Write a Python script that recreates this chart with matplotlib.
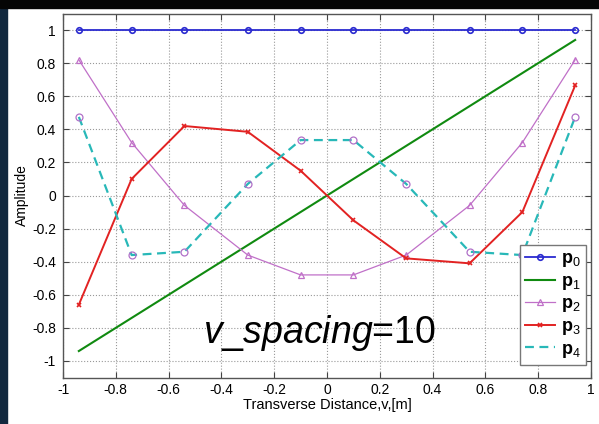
import numpy as np
import matplotlib
matplotlib.use("Agg")
import matplotlib.pyplot as plt
from matplotlib.patches import Rectangle

# ─────────────────────────────────────────────
# Data
# ─────────────────────────────────────────────
v = [-0.94, -0.74, -0.54, -0.30, -0.10, 0.10, 0.30, 0.54, 0.74, 0.94]
p0 = [1, 1, 1, 1, 1, 1, 1, 1, 1, 1]
p1 = [-0.94, -0.74, -0.54, -0.30, -0.10, 0.10, 0.30, 0.54, 0.74, 0.94]
p2 = [0.82, 0.32, -0.06, -0.36, -0.48, -0.48, -0.36, -0.06, 0.32, 0.82]
p3 = [-0.66, 0.10, 0.42, 0.385, 0.15, -0.15, -0.38, -0.41, -0.10, 0.665]
p4 = [0.475, -0.36, -0.34, 0.07, 0.335, 0.335, 0.07, -0.34, -0.36, 0.475]

x_ticks = [-1, -0.8, -0.6, -0.4, -0.2, 0, 0.2, 0.4, 0.6, 0.8, 1]
y_ticks = [-1, -0.8, -0.6, -0.4, -0.2, 0, 0.2, 0.4, 0.6, 0.8, 1]
x_ticklabels = ["-1", "-0.8", "-0.6", "-0.4", "-0.2", "0", "0.2", "0.4", "0.6", "0.8", "1"]
y_ticklabels = ["-1", "-0.8", "-0.6", "-0.4", "-0.2", "0", "0.2", "0.4", "0.6", "0.8", "1"]

plt.rcParams["font.family"] = ["Liberation Sans", "DejaVu Sans"]
plt.rcParams["mathtext.fontset"] = "custom"
plt.rcParams["mathtext.rm"] = "Liberation Sans"
plt.rcParams["mathtext.it"] = "Liberation Sans:italic"
plt.rcParams["mathtext.bf"] = "Liberation Sans:bold"

fig = plt.figure(figsize=(5.99, 4.24), dpi=100, facecolor="white")

# slide background strips (dark top band, textured-blue left edge)
fig.patches.append(Rectangle((0, 0), 7 / 599, 1, transform=fig.transFigure,
                             color="#12283f", zorder=0))
fig.patches.append(Rectangle((0, 1 - 8 / 424), 1, 8 / 424, transform=fig.transFigure,
                             color="#050505", zorder=0))

ax = fig.add_axes([63 / 599, 1 - 377.5 / 424, 528 / 599, 364 / 424])

ax.plot(v, p0, "-o", color="#2a2ad0", lw=1.3, ms=4, mfc="none", mew=1.2,
        label=r"$\mathbf{p}_0$")
ax.plot(v, p1, "-", color="#108a10", lw=1.5, label=r"$\mathbf{p}_1$")
ax.plot(v, p2, "-^", color="#c070c8", lw=0.9, ms=5, mfc="none", mew=0.9,
        label=r"$\mathbf{p}_2$")
ax.plot(v, p3, "-x", color="#e22222", lw=1.4, ms=3, mew=1.2,
        label=r"$\mathbf{p}_3$")
ax.plot(v, p4, "--", color="#28b8b8", lw=1.6, dashes=(4, 2.5),
        label=r"$\mathbf{p}_4$")
ax.plot(v, p4, "o", color="#b070c8", ms=5, mfc="none", mew=0.9, zorder=3)

ax.set_xlim(-1, 1)
ax.set_ylim(-1.1, 1.1)
ax.set_xticks(x_ticks)
ax.set_xticklabels(x_ticklabels)
ax.set_yticks(y_ticks)
ax.set_yticklabels(y_ticklabels)
ax.tick_params(direction="in", top=True, right=True, labelsize=10,
               length=4, color="#444444")
ax.tick_params(axis="x", pad=4)
ax.tick_params(axis="y", pad=5)
ax.grid(True, linestyle=":", color="#999999", linewidth=0.8)
for s in ax.spines.values():
    s.set_color("#555555")
    s.set_linewidth(1.0)

ax.set_xlabel("Transverse Distance,v,[m]", fontsize=10.5, labelpad=1)
ax.set_ylabel("Amplitude", fontsize=10, labelpad=2)

ax.text(-0.03, -0.83, r"$\mathit{v\_spacing}$=10", fontsize=27,
        ha="center", va="center")

leg = ax.legend(loc="lower right", bbox_to_anchor=(0.99, 0.034),
                borderaxespad=0, fontsize=13, handlelength=1.65,
                labelspacing=0.2, fancybox=False, framealpha=1,
                edgecolor="#777777", borderpad=0.3, handletextpad=0.3)
leg.get_frame().set_linewidth(1.0)

fig.savefig("out.png", dpi=100, facecolor=fig.get_facecolor())
